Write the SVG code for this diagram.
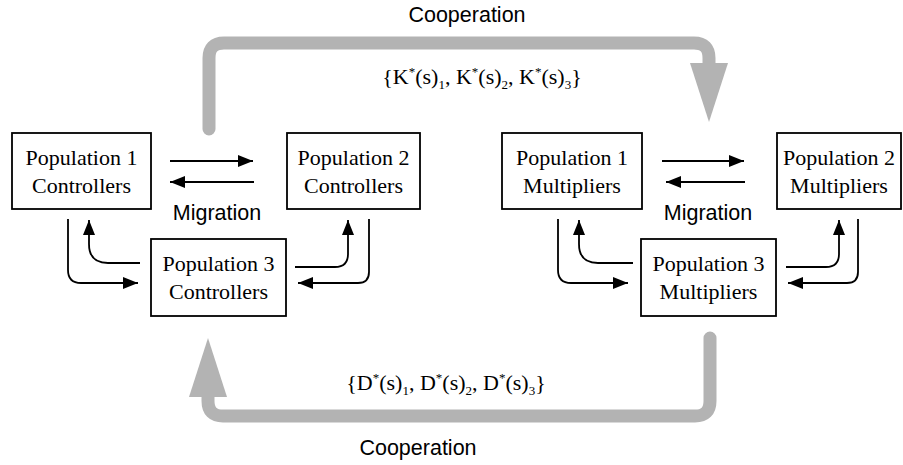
<svg xmlns="http://www.w3.org/2000/svg" width="903" height="465" viewBox="0 0 903 465">
<defs>
<marker id="ah" markerUnits="userSpaceOnUse" markerWidth="17" markerHeight="13" refX="15" refY="6" orient="auto">
<path d="M0,0 L15,6 L0,12 z" fill="#000"/>
</marker>
<style>
.box{fill:#fff;stroke:#000;stroke-width:1.8}
.lbl{font-family:"Liberation Serif","Times New Roman",serif;font-size:22px;fill:#000;text-anchor:middle}
.sans{font-family:"Liberation Sans",Arial,sans-serif;font-size:21.5px;fill:#000;text-anchor:middle}
.math{font-family:"Liberation Serif","Times New Roman",serif;font-size:22px;fill:#000;text-anchor:middle}
.sm{font-size:13px}
.conn{fill:none;stroke:#000;stroke-width:1.8;marker-end:url(#ah)}
.coop{fill:none;stroke:#b3b3b3;stroke-width:13;stroke-linecap:round;stroke-linejoin:round}
.coophead{fill:#b3b3b3}
</style>
</defs>
<rect width="903" height="465" fill="#fff"/>

<g id="cooperation">
<path class="coop" d="M209,129 V58 Q209,43 224,43 H694 Q709,43 709,58 V66"/>
<polygon class="coophead" points="690,63 728,63 709,122"/>
<path class="coop" d="M710,338 V401 Q710,416 695,416 H223 Q208,416 208,401 V394"/>
<polygon class="coophead" points="189,397 227,397 208,338"/>
<text class="sans" x="467" y="22">Cooperation</text>
<text class="sans" x="418" y="455">Cooperation</text>
<text class="math" x="482" y="84">{K<tspan class="sm" dy="-8">*</tspan><tspan dy="8">(s)</tspan><tspan class="sm" dy="5">1</tspan><tspan dy="-5">, K</tspan><tspan class="sm" dy="-8">*</tspan><tspan dy="8">(s)</tspan><tspan class="sm" dy="5">2</tspan><tspan dy="-5">, K</tspan><tspan class="sm" dy="-8">*</tspan><tspan dy="8">(s)</tspan><tspan class="sm" dy="5">3</tspan><tspan dy="-5">}</tspan></text>
<text class="math" x="446" y="390">{D<tspan class="sm" dy="-8">*</tspan><tspan dy="8">(s)</tspan><tspan class="sm" dy="5">1</tspan><tspan dy="-5">, D</tspan><tspan class="sm" dy="-8">*</tspan><tspan dy="8">(s)</tspan><tspan class="sm" dy="5">2</tspan><tspan dy="-5">, D</tspan><tspan class="sm" dy="-8">*</tspan><tspan dy="8">(s)</tspan><tspan class="sm" dy="5">3</tspan><tspan dy="-5">}</tspan></text>
</g>

<g id="connectors">
<path class="conn" d="M170,161 H253"/>
<path class="conn" d="M254,182 H170"/>
<path class="conn" d="M68,219 V270 Q68,283 81,283 H138"/>
<path class="conn" d="M140,263 H108 Q89,263 89,244 V220"/>
<path class="conn" d="M295,267 H335 Q348,267 348,254 V220"/>
<path class="conn" d="M369,219 V272 Q369,283 358,283 H298"/>
<path class="conn" d="M662,161 H744"/>
<path class="conn" d="M745,182 H666"/>
<path class="conn" d="M558,219 V270 Q558,283 571,283 H628"/>
<path class="conn" d="M633,263 H598 Q579,263 579,244 V220"/>
<path class="conn" d="M786,267 H826 Q839,267 839,254 V220"/>
<path class="conn" d="M858,219 V272 Q858,283 847,283 H788"/>
<text class="sans" x="217" y="220">Migration</text>
<text class="sans" x="708" y="220">Migration</text>
</g>

<g id="pop1c">
<rect class="box" x="12" y="133" width="139" height="76"/>
<text class="lbl" x="81.5" y="165">Population 1</text>
<text class="lbl" x="81.5" y="193">Controllers</text>
</g>
<g id="pop2c">
<rect class="box" x="287" y="133" width="133" height="76"/>
<text class="lbl" x="353.5" y="165">Population 2</text>
<text class="lbl" x="353.5" y="193">Controllers</text>
</g>
<g id="pop3c">
<rect class="box" x="151" y="239" width="135" height="77"/>
<text class="lbl" x="218.5" y="271">Population 3</text>
<text class="lbl" x="218.5" y="299">Controllers</text>
</g>
<g id="pop1m">
<rect class="box" x="502" y="133" width="140" height="76"/>
<text class="lbl" x="572" y="165">Population 1</text>
<text class="lbl" x="572" y="193">Multipliers</text>
</g>
<g id="pop2m">
<rect class="box" x="777" y="133" width="124" height="76"/>
<text class="lbl" x="839" y="165">Population 2</text>
<text class="lbl" x="839" y="193">Multipliers</text>
</g>
<g id="pop3m">
<rect class="box" x="641" y="239" width="135" height="77"/>
<text class="lbl" x="708.5" y="271">Population 3</text>
<text class="lbl" x="708.5" y="299">Multipliers</text>
</g>
</svg>
